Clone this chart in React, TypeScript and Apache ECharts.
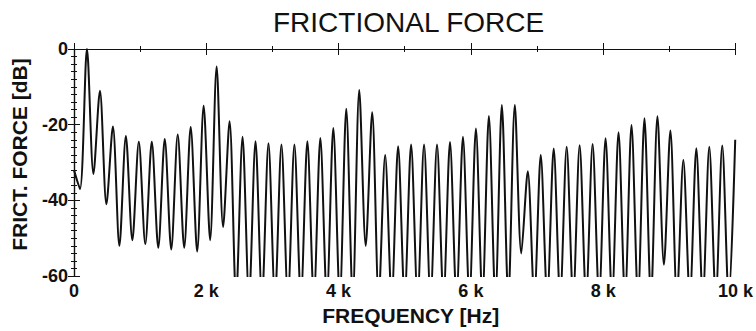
import React, { useEffect, useRef } from "react";
import * as echarts from "echarts";

// Harmonic spectrum of the frictional force (fundamental ≈ 196 Hz)
const FUNDAMENTAL_HZ = 196;
const START_HZ = 0;
const START_DB = -32;
const FIRST_TROUGH_HZ = 90;

// Peak level (dB) of harmonics 1..51
const PEAK_DB = [
  0, -11, -20.5, -23, -24.5, -24.5, -23.8, -22.6, -20.6, -15,
  -4.6, -19.1, -23.2, -24.4, -24.9, -25.2, -25.2, -24.4, -23.5, -20.9,
  -15.8, -10.8, -16.7, -28, -25.7, -25.2, -25.2, -25.2, -24.6, -23.2,
  -21, -17.7, -14.8, -14.8, -32.3, -28, -26.3, -25.8, -25.4, -25.1,
  -23.6, -22, -20.1, -18.3, -17.8, -21.5, -29.3, -26.2, -25.8, -25.5,
  -24,
];

// Trough level (dB): index 0 before harmonic 1, index k between harmonic k and k+1
// (-66 = below the -60 dB floor of the plot, clipped)
const TROUGH_DB = [
  -37, -33, -41, -52, -50.5, -51.5, -52.5, -53, -52.5, -53.5,
  -50.5, -47, -66, -66, -66, -66, -66, -66, -66, -66,
  -66, -66, -52, -66, -66, -66, -66, -66, -66, -66,
  -66, -66, -66, -66, -54, -66, -66, -66, -66, -66,
  -66, -66, -66, -66, -66, -57, -66, -66, -66, -66,
  -66,
];

const X_TICK_LABELS: Record<number, string> = {
  0: "0", 2000: "2 k", 4000: "4 k", 6000: "6 k", 8000: "8 k", 10000: "10 k",
};
const Y_TICK_LABELS: Record<number, string> = {
  0: "0", [-20]: "-20", [-40]: "-40", [-60]: "-60",
};

const FONT = "'Liberation Sans', Arial, Helvetica, sans-serif";
const INK = "#111";

function buildSeries(): [number, number][] {
  const pts: [number, number][] = [];
  pts.push([START_HZ, START_DB]);
  pts.push([FIRST_TROUGH_HZ, TROUGH_DB[0]]);
  for (let n = 1; n <= PEAK_DB.length; n++) {
    pts.push([n * FUNDAMENTAL_HZ, PEAK_DB[n - 1]]);
    if (n < PEAK_DB.length) pts.push([(n + 0.5) * FUNDAMENTAL_HZ, TROUGH_DB[n]]);
  }
  return pts;
}

export default function App() {
  const ref = useRef<HTMLDivElement>(null);
  useEffect(() => {
    if (!ref.current) return;
    const chart = echarts.init(ref.current, undefined, { renderer: "svg" });
    const axisLine = { show: true, lineStyle: { color: INK, width: 1.2 } };
    const xCommon = {
      type: "value" as const,
      min: 0,
      max: 10000,
      interval: 2000,
      axisLine,
      axisTick: { show: true, inside: true, length: 6, lineStyle: { color: INK, width: 1 } },
      minorTick: { show: true, splitNumber: 2, length: 3, lineStyle: { color: INK, width: 1 } },
      splitLine: { show: false },
    };
    const yCommon = {
      type: "value" as const,
      min: -60,
      max: 0,
      interval: 20,
      axisLine,
      axisTick: { show: true, inside: true, length: 6, lineStyle: { color: INK, width: 1 } },
      minorTick: { show: true, splitNumber: 10, length: 3, lineStyle: { color: INK, width: 1 } },
      splitLine: { show: false },
    };
    chart.setOption({
      animation: false,
      backgroundColor: "#ffffff",
      title: {
        text: "FRICTIONAL FORCE",
        left: 268,
        top: 3,
        textStyle: { fontFamily: FONT, fontSize: 28, fontWeight: "normal", color: INK },
      },
      grid: { left: 74, right: 18, top: 49, bottom: 51 },
      xAxis: [
        {
          ...xCommon,
          position: "bottom",
          name: "FREQUENCY [Hz]",
          nameLocation: "middle",
          nameGap: 27,
          nameTextStyle: {
            fontFamily: FONT,
            fontSize: 21,
            fontWeight: "bold",
            color: INK,
            padding: [0, 0, 0, 12],
          },
          axisLabel: {
            margin: 6,
            fontFamily: FONT,
            fontSize: 18,
            fontWeight: "bold",
            color: INK,
            formatter: (v: number) => X_TICK_LABELS[v] ?? "",
          },
        },
        { ...xCommon, position: "top", axisLabel: { show: false } },
      ],
      yAxis: [
        {
          ...yCommon,
          position: "left",
          name: "FRICT. FORCE [dB]",
          nameLocation: "middle",
          nameGap: 44,
          nameTextStyle: {
            fontFamily: FONT,
            fontSize: 21,
            fontWeight: "bold",
            color: INK,
            padding: [0, 0, 0, 16],
          },
          axisLabel: {
            margin: 6,
            fontFamily: FONT,
            fontSize: 18,
            fontWeight: "bold",
            color: INK,
            formatter: (v: number) => Y_TICK_LABELS[v] ?? "",
          },
        },
        { ...yCommon, position: "right", axisLabel: { show: false } },
      ],
      series: [
        {
          type: "line",
          data: buildSeries(),
          showSymbol: false,
          smooth: 0.3,
          clip: true,
          lineStyle: { color: INK, width: 2 },
        },
      ],
    });
    return () => chart.dispose();
  }, []);
  return (
    <div
      ref={ref}
      style={{ position: "absolute", left: 0, top: 0, width: 756, height: 331, background: "#fff" }}
    />
  );
}
